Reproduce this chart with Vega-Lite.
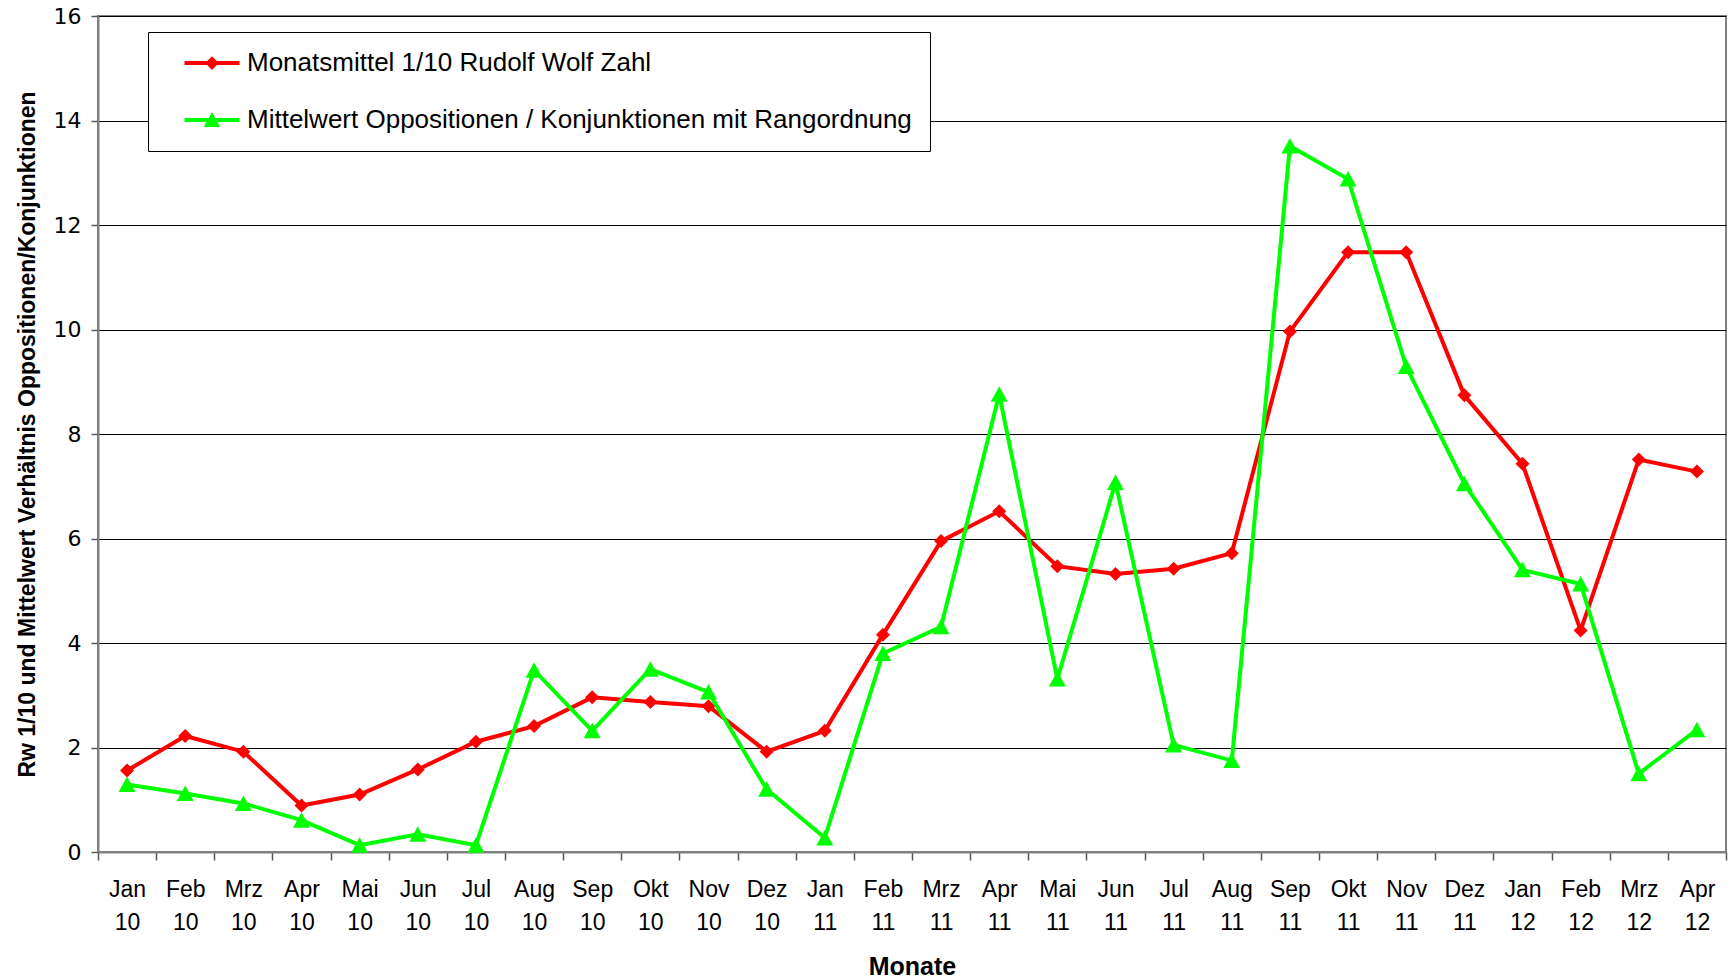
{
  "$schema": "https://vega.github.io/schema/vega-lite/v6.json",
  "width": 1628,
  "height": 836,
  "autosize": "none",
  "padding": {"left": 98, "top": 16, "right": 3, "bottom": 128},
  "background": "white",
  "config": {
    "view": {"stroke": "#808080", "strokeWidth": 2},
    "font": "Liberation Sans"
  },
  "data": {"values": [
    {"m":"Jan 10","s":"rw","v":1.56},{"m":"Feb 10","s":"rw","v":2.22},{"m":"Mrz 10","s":"rw","v":1.92},{"m":"Apr 10","s":"rw","v":0.89},
    {"m":"Mai 10","s":"rw","v":1.10},{"m":"Jun 10","s":"rw","v":1.58},{"m":"Jul 10","s":"rw","v":2.11},{"m":"Aug 10","s":"rw","v":2.41},
    {"m":"Sep 10","s":"rw","v":2.96},{"m":"Okt 10","s":"rw","v":2.87},{"m":"Nov 10","s":"rw","v":2.79},{"m":"Dez 10","s":"rw","v":1.92},
    {"m":"Jan 11","s":"rw","v":2.32},{"m":"Feb 11","s":"rw","v":4.16},{"m":"Mrz 11","s":"rw","v":5.95},{"m":"Apr 11","s":"rw","v":6.52},
    {"m":"Mai 11","s":"rw","v":5.47},{"m":"Jun 11","s":"rw","v":5.32},{"m":"Jul 11","s":"rw","v":5.42},{"m":"Aug 11","s":"rw","v":5.72},
    {"m":"Sep 11","s":"rw","v":9.96},{"m":"Okt 11","s":"rw","v":11.48},{"m":"Nov 11","s":"rw","v":11.48},{"m":"Dez 11","s":"rw","v":8.74},
    {"m":"Jan 12","s":"rw","v":7.43},{"m":"Feb 12","s":"rw","v":4.24},{"m":"Mrz 12","s":"rw","v":7.51},{"m":"Apr 12","s":"rw","v":7.28},
    {"m":"Jan 10","s":"mw","v":1.29},{"m":"Feb 10","s":"mw","v":1.12},{"m":"Mrz 10","s":"mw","v":0.93},{"m":"Apr 10","s":"mw","v":0.61},
    {"m":"Mai 10","s":"mw","v":0.13},{"m":"Jun 10","s":"mw","v":0.34},{"m":"Jul 10","s":"mw","v":0.13},{"m":"Aug 10","s":"mw","v":3.48},
    {"m":"Sep 10","s":"mw","v":2.32},{"m":"Okt 10","s":"mw","v":3.50},{"m":"Nov 10","s":"mw","v":3.06},{"m":"Dez 10","s":"mw","v":1.20},
    {"m":"Jan 11","s":"mw","v":0.27},{"m":"Feb 11","s":"mw","v":3.80},{"m":"Mrz 11","s":"mw","v":4.31},{"m":"Apr 11","s":"mw","v":8.76},
    {"m":"Mai 11","s":"mw","v":3.31},{"m":"Jun 11","s":"mw","v":7.07},{"m":"Jul 11","s":"mw","v":2.05},{"m":"Aug 11","s":"mw","v":1.75},
    {"m":"Sep 11","s":"mw","v":13.51},{"m":"Okt 11","s":"mw","v":12.88},{"m":"Nov 11","s":"mw","v":9.29},{"m":"Dez 11","s":"mw","v":7.05},
    {"m":"Jan 12","s":"mw","v":5.40},{"m":"Feb 12","s":"mw","v":5.13},{"m":"Mrz 12","s":"mw","v":1.50},{"m":"Apr 12","s":"mw","v":2.34}
  ]},
  "encoding": {
    "x": {
      "field": "m", "type": "ordinal", "sort": null,
      "scale": {"paddingInner": 0, "paddingOuter": 0},
      "title": "Monate",
      "axis": {
        "labelAngle": 0,
        "labelExpr": "split(datum.label, ' ')",
        "labelFontSize": 23, "labelColor": "#000", "labelFont": "Liberation Sans",
        "labelLineHeight": 33, "labelPadding": 18,
        "tickBand": "extent", "tickSize": 8, "tickColor": "#555", "tickWidth": 1.5,
        "domainColor": "#808080", "domainWidth": 2,
        "titleFontSize": 25, "titleFont": "Liberation Sans", "titleFontWeight": "bold", "titleColor": "#000",
        "titlePadding": 20, "grid": false
      }
    },
    "y": {
      "field": "v", "type": "quantitative",
      "scale": {"domain": [0, 16], "nice": false},
      "title": "Rw 1/10 und Mittelwert Verhältnis Oppositionen/Konjunktionen",
      "axis": {
        "values": [0, 2, 4, 6, 8, 10, 12, 14, 16],
        "labelFontSize": 22, "labelFont": "DejaVu Sans", "labelColor": "#000", "labelPadding": 10,
        "tickSize": 7, "tickColor": "#555", "tickWidth": 1.5,
        "domainColor": "#808080", "domainWidth": 2,
        "grid": true, "gridColor": "#000", "gridWidth": 1,
        "titleFontSize": 23, "titleFont": "Liberation Sans", "titleFontWeight": "bold", "titleColor": "#000",
        "titlePadding": 14
      }
    }
  },
  "layer": [
    {
      "transform": [{"filter": "datum.s == 'rw'"}],
      "mark": {"type": "line", "color": "#FF0000", "strokeWidth": 4}
    },
    {
      "transform": [{"filter": "datum.s == 'rw'"}],
      "mark": {"type": "point", "filled": true, "opacity": 1, "color": "#FF0000", "size": 100, "shape": "M0,-1.4L1.4,0L0,1.4L-1.4,0Z"}
    },
    {
      "transform": [{"filter": "datum.s == 'mw'"}],
      "mark": {"type": "line", "color": "#00FF00", "strokeWidth": 4}
    },
    {
      "transform": [{"filter": "datum.s == 'mw'"}],
      "mark": {"type": "point", "filled": true, "opacity": 1, "color": "#00FF00", "size": 100, "shape": "M0,-1.6L1.7,1.5L-1.7,1.5Z"}
    },
    {
      "mark": {"type": "point", "filled": true, "opacity": 0},
      "encoding": {
        "color": {
          "field": "s", "type": "nominal",
          "scale": {"domain": ["rw", "mw"], "range": ["#FF0000", "#00FF00"]},
          "legend": {
            "orient": "none", "legendX": 50, "legendY": 16,
            "title": null,
            "labelExpr": "datum.value == 'rw' ? 'Monatsmittel 1/10 Rudolf Wolf Zahl' : 'Mittelwert Oppositionen / Konjunktionen mit Rangordnung'",
            "labelFontSize": 26, "labelFont": "Liberation Sans", "labelColor": "#000", "labelLimit": 1000,
            "labelOffset": 55,
            "symbolSize": 121, "symbolStrokeWidth": 0, "symbolOpacity": 1,
            "padding": 18, "rowPadding": 31,
            "strokeColor": "#000", "fillColor": "#fff"
          }
        },
        "shape": {
          "field": "s", "type": "nominal",
          "scale": {"domain": ["rw", "mw"], "range": [
            "M1,-0.36H11V0.36H1Z M6,-1.25L7.25,0L6,1.25L4.75,0Z",
            "M1,-0.36H11V0.36H1Z M6,-1.45L7.5,1.25L4.5,1.25Z"
          ]},
          "legend": {
            "orient": "none", "legendX": 50, "legendY": 16,
            "title": null,
            "labelExpr": "datum.value == 'rw' ? 'Monatsmittel 1/10 Rudolf Wolf Zahl' : 'Mittelwert Oppositionen / Konjunktionen mit Rangordnung'",
            "labelFontSize": 26, "labelFont": "Liberation Sans", "labelColor": "#000", "labelLimit": 1000,
            "labelOffset": 55,
            "symbolSize": 121, "symbolStrokeWidth": 0, "symbolOpacity": 1,
            "padding": 18, "rowPadding": 31,
            "strokeColor": "#000", "fillColor": "#fff"
          }
        }
      }
    }
  ]
}
